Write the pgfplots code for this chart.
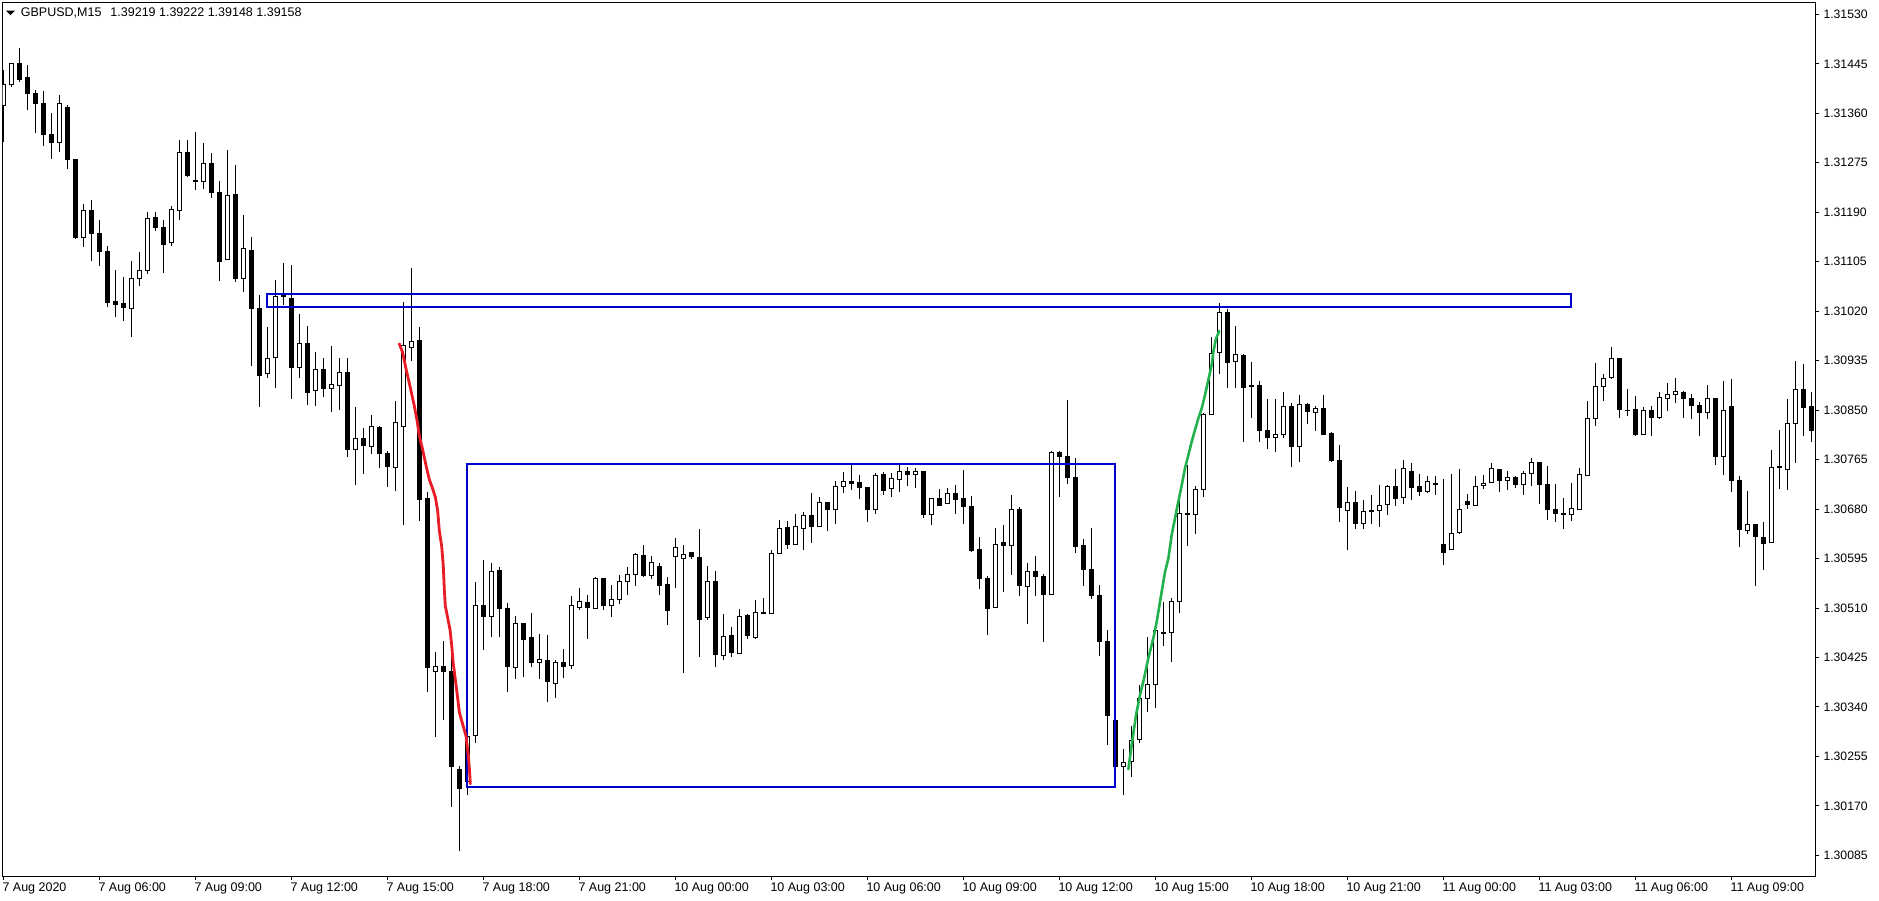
\documentclass[border=0pt]{standalone}
\usepackage{fontspec}
\setmainfont{Liberation Sans}
\usepackage{pgfplots}
\usepackage{pgfplotstable}
\pgfplotsset{compat=1.18}

\definecolor{mtblue}{RGB}{0,0,204}
\definecolor{mtred}{RGB}{232,28,36}
\definecolor{mtgreen}{RGB}{34,177,76}
\newcommand\xtickfont{\fontsize{12.5}{14}\selectfont}
\newcommand\ytickfont{\fontsize{12.2}{14}\selectfont}

% GBPUSD M15 candles: bar index, open, high, low, close
\pgfplotstableread{
i o h l c
0 1.31374 1.31434 1.31311 1.31409
1 1.31410 1.31446 1.31405 1.31446
2 1.31446 1.31473 1.31414 1.31418
3 1.31422 1.31443 1.31365 1.31394
4 1.31394 1.31400 1.31326 1.31377
5 1.31377 1.31399 1.31303 1.31323
6 1.31324 1.31360 1.31282 1.31309
7 1.31310 1.31392 1.31294 1.31377
8 1.31370 1.31374 1.31264 1.31281
9 1.31281 1.31281 1.31144 1.31146
10 1.31147 1.31204 1.31131 1.31193
11 1.31193 1.31211 1.31107 1.31153
12 1.31154 1.31177 1.31098 1.31122
13 1.31122 1.31132 1.31028 1.31035
14 1.31037 1.31090 1.31010 1.31031
15 1.31034 1.31079 1.31004 1.31027
16 1.31025 1.31107 1.30975 1.31077
17 1.31077 1.31121 1.31064 1.31090
18 1.31090 1.31191 1.31084 1.31180
19 1.31181 1.31191 1.31157 1.31164
20 1.31164 1.31177 1.31086 1.31135
21 1.31138 1.31200 1.31132 1.31195
22 1.31193 1.31314 1.31176 1.31292
23 1.31292 1.31314 1.31251 1.31254
24 1.31245 1.31328 1.31229 1.31243
25 1.31243 1.31309 1.31230 1.31274
26 1.31274 1.31292 1.31215 1.31224
27 1.31224 1.31244 1.31072 1.31105
28 1.31109 1.31297 1.31109 1.31219
29 1.31221 1.31271 1.31071 1.31077
30 1.31077 1.31185 1.31053 1.31128
31 1.31125 1.31147 1.30926 1.31025
32 1.31025 1.31048 1.30856 1.30909
33 1.30913 1.30993 1.30906 1.30939
34 1.30941 1.31074 1.30888 1.31046
35 1.31048 1.31102 1.31031 1.31045
36 1.31042 1.31099 1.30870 1.30923
37 1.30924 1.31016 1.30906 1.30965
38 1.30965 1.30995 1.30859 1.30880
39 1.30883 1.30950 1.30857 1.30919
40 1.30919 1.30940 1.30873 1.30888
41 1.30888 1.30960 1.30847 1.30894
42 1.30893 1.30940 1.30850 1.30915
43 1.30915 1.30940 1.30769 1.30782
44 1.30782 1.30855 1.30722 1.30802
45 1.30802 1.30820 1.30741 1.30789
46 1.30788 1.30841 1.30775 1.30822
47 1.30820 1.30823 1.30750 1.30775
48 1.30775 1.30780 1.30718 1.30753
49 1.30752 1.30866 1.30711 1.30828
50 1.30822 1.31035 1.30652 1.30961
51 1.30958 1.31094 1.30935 1.30968
52 1.30970 1.30992 1.30660 1.30697
53 1.30699 1.30710 1.30366 1.30408
54 1.30401 1.30434 1.30288 1.30409
55 1.30409 1.30453 1.30318 1.30401
56 1.30401 1.30426 1.30169 1.30238
57 1.30233 1.30239 1.30093 1.30200
58 1.30212 1.30291 1.30188 1.30290
59 1.30291 1.30555 1.30278 1.30515
60 1.30515 1.30592 1.30438 1.30496
61 1.30496 1.30587 1.30460 1.30572
62 1.30574 1.30580 1.30460 1.30509
63 1.30509 1.30519 1.30366 1.30409
64 1.30408 1.30496 1.30388 1.30483
65 1.30483 1.30483 1.30392 1.30456
66 1.30460 1.30502 1.30409 1.30417
67 1.30417 1.30466 1.30388 1.30421
68 1.30419 1.30463 1.30348 1.30383
69 1.30381 1.30421 1.30355 1.30417
70 1.30417 1.30440 1.30389 1.30409
71 1.30412 1.30531 1.30406 1.30514
72 1.30511 1.30544 1.30507 1.30522
73 1.30520 1.30532 1.30457 1.30511
74 1.30509 1.30564 1.30508 1.30561
75 1.30560 1.30562 1.30507 1.30514
76 1.30514 1.30550 1.30495 1.30525
77 1.30525 1.30566 1.30517 1.30556
78 1.30556 1.30581 1.30533 1.30568
79 1.30568 1.30605 1.30548 1.30602
80 1.30601 1.30618 1.30564 1.30566
81 1.30566 1.30599 1.30560 1.30589
82 1.30582 1.30587 1.30533 1.30549
83 1.30550 1.30564 1.30481 1.30505
84 1.30599 1.30630 1.30545 1.30614
85 1.30595 1.30618 1.30399 1.30602
86 1.30606 1.30606 1.30595 1.30599
87 1.30596 1.30646 1.30426 1.30490
88 1.30493 1.30582 1.30490 1.30556
89 1.30556 1.30574 1.30409 1.30430
90 1.30429 1.30500 1.30421 1.30461
91 1.30463 1.30477 1.30426 1.30433
92 1.30432 1.30508 1.30432 1.30496
93 1.30498 1.30500 1.30457 1.30463
94 1.30459 1.30524 1.30457 1.30503
95 1.30503 1.30527 1.30499 1.30500
96 1.30501 1.30609 1.30501 1.30604
97 1.30604 1.30661 1.30604 1.30647
98 1.30649 1.30660 1.30612 1.30620
99 1.30620 1.30672 1.30620 1.30650
100 1.30647 1.30675 1.30610 1.30669
101 1.30669 1.30708 1.30622 1.30650
102 1.30650 1.30700 1.30650 1.30692
103 1.30692 1.30692 1.30643 1.30680
104 1.30680 1.30728 1.30654 1.30719
105 1.30719 1.30744 1.30708 1.30728
106 1.30728 1.30758 1.30712 1.30724
107 1.30726 1.30739 1.30698 1.30717
108 1.30717 1.30717 1.30657 1.30680
109 1.30680 1.30742 1.30672 1.30738
110 1.30740 1.30744 1.30704 1.30712
111 1.30715 1.30742 1.30700 1.30733
112 1.30731 1.30758 1.30710 1.30745
113 1.30745 1.30752 1.30720 1.30739
114 1.30740 1.30750 1.30717 1.30745
115 1.30745 1.30745 1.30665 1.30670
116 1.30671 1.30699 1.30653 1.30699
117 1.30699 1.30715 1.30686 1.30686
118 1.30690 1.30717 1.30690 1.30707
119 1.30706 1.30721 1.30672 1.30696
120 1.30699 1.30747 1.30654 1.30684
121 1.30685 1.30702 1.30607 1.30608
122 1.30611 1.30632 1.30543 1.30560
123 1.30561 1.30565 1.30464 1.30509
124 1.30511 1.30648 1.30511 1.30620
125 1.30623 1.30653 1.30538 1.30617
126 1.30618 1.30704 1.30567 1.30680
127 1.30680 1.30683 1.30531 1.30548
128 1.30547 1.30587 1.30483 1.30573
129 1.30573 1.30599 1.30531 1.30564
130 1.30565 1.30568 1.30452 1.30533
131 1.30534 1.30780 1.30534 1.30778
132 1.30778 1.30779 1.30701 1.30771
133 1.30771 1.30867 1.30723 1.30734
134 1.30735 1.30767 1.30604 1.30615
135 1.30618 1.30629 1.30548 1.30576
136 1.30577 1.30648 1.30526 1.30531
137 1.30532 1.30550 1.30428 1.30452
138 1.30453 1.30472 1.30275 1.30325
139 1.30316 1.30321 1.30232 1.30237
140 1.30237 1.30268 1.30188 1.30245
141 1.30246 1.30307 1.30220 1.30282
142 1.30284 1.30377 1.30278 1.30355
143 1.30355 1.30461 1.30332 1.30379
144 1.30379 1.30471 1.30339 1.30471
145 1.30467 1.30521 1.30445 1.30468
146 1.30468 1.30527 1.30418 1.30522
147 1.30522 1.30699 1.30501 1.30672
148 1.30670 1.30756 1.30617 1.30672
149 1.30670 1.30720 1.30637 1.30714
150 1.30714 1.30845 1.30700 1.30842
151 1.30842 1.30976 1.30842 1.30948
152 1.30949 1.31034 1.30912 1.31018
153 1.31018 1.31024 1.30888 1.30931
154 1.30934 1.30995 1.30888 1.30946
155 1.30944 1.30946 1.30796 1.30889
156 1.30893 1.30932 1.30836 1.30891
157 1.30893 1.30900 1.30795 1.30815
158 1.30815 1.30870 1.30784 1.30803
159 1.30803 1.30870 1.30778 1.30809
160 1.30809 1.30881 1.30802 1.30857
161 1.30857 1.30862 1.30752 1.30787
162 1.30787 1.30876 1.30761 1.30860
163 1.30860 1.30862 1.30826 1.30848
164 1.30846 1.30857 1.30815 1.30853
165 1.30853 1.30876 1.30808 1.30808
166 1.30810 1.30812 1.30761 1.30763
167 1.30764 1.30790 1.30658 1.30682
168 1.30677 1.30718 1.30609 1.30692
169 1.30692 1.30711 1.30646 1.30655
170 1.30656 1.30696 1.30646 1.30676
171 1.30678 1.30704 1.30655 1.30676
172 1.30677 1.30721 1.30650 1.30687
173 1.30688 1.30721 1.30670 1.30718
174 1.30718 1.30749 1.30686 1.30698
175 1.30700 1.30764 1.30689 1.30749
176 1.30744 1.30759 1.30696 1.30717
177 1.30718 1.30740 1.30703 1.30710
178 1.30710 1.30736 1.30708 1.30728
179 1.30724 1.30737 1.30705 1.30722
180 1.30620 1.30732 1.30584 1.30605
181 1.30611 1.30740 1.30611 1.30638
182 1.30639 1.30749 1.30638 1.30680
183 1.30693 1.30706 1.30681 1.30688
184 1.30687 1.30737 1.30687 1.30718
185 1.30721 1.30739 1.30714 1.30724
186 1.30726 1.30760 1.30724 1.30750
187 1.30748 1.30748 1.30710 1.30729
188 1.30729 1.30745 1.30712 1.30735
189 1.30735 1.30737 1.30717 1.30723
190 1.30723 1.30745 1.30705 1.30742
191 1.30742 1.30768 1.30720 1.30760
192 1.30760 1.30760 1.30689 1.30723
193 1.30723 1.30754 1.30662 1.30680
194 1.30680 1.30723 1.30658 1.30673
195 1.30673 1.30699 1.30646 1.30671
196 1.30671 1.30724 1.30660 1.30681
197 1.30680 1.30751 1.30680 1.30739
198 1.30738 1.30866 1.30738 1.30836
199 1.30836 1.30931 1.30822 1.30891
200 1.30891 1.30912 1.30865 1.30905
201 1.30906 1.30959 1.30904 1.30939
202 1.30939 1.30939 1.30837 1.30851
203 1.30850 1.30886 1.30840 1.30849
204 1.30851 1.30874 1.30806 1.30808
205 1.30809 1.30855 1.30809 1.30850
206 1.30850 1.30857 1.30806 1.30837
207 1.30837 1.30881 1.30835 1.30872
208 1.30870 1.30897 1.30849 1.30877
209 1.30877 1.30905 1.30863 1.30882
210 1.30881 1.30883 1.30837 1.30870
211 1.30870 1.30878 1.30834 1.30858
212 1.30858 1.30864 1.30806 1.30846
213 1.30846 1.30893 1.30835 1.30870
214 1.30870 1.30870 1.30756 1.30770
215 1.30771 1.30900 1.30739 1.30850
216 1.30857 1.30904 1.30710 1.30729
217 1.30729 1.30737 1.30615 1.30645
218 1.30644 1.30711 1.30638 1.30654
219 1.30654 1.30654 1.30547 1.30633
220 1.30632 1.30658 1.30576 1.30621
221 1.30623 1.30782 1.30623 1.30752
222 1.30754 1.30816 1.30715 1.30752
223 1.30748 1.30869 1.30713 1.30827
224 1.30827 1.30934 1.30760 1.30886
225 1.30886 1.30929 1.30806 1.30855
226 1.30857 1.30881 1.30796 1.30815
}\candles

% hand-drawn annotations (bar index, price)
\pgfplotstableread{
x y
49.5 1.30964
49.92 1.30949
50.34 1.30921
50.84 1.30891
51.38 1.30857
51.71 1.30833
52.0 1.30806
52.42 1.30782
52.84 1.30755
53.25 1.30731
53.59 1.30718
54.0 1.30701
54.3 1.30677
54.5 1.30643
54.8 1.30616
55.0 1.30582
55.13 1.30541
55.25 1.30514
55.55 1.30493
55.84 1.30473
56.05 1.30446
56.21 1.30419
56.46 1.30392
56.71 1.30365
57.0 1.30331
57.43 1.30310
57.84 1.30290
58.13 1.30256
58.25 1.30236
58.38 1.30208
}\redline

\pgfplotstableread{
x y
140.63 1.30233
141.05 1.30275
141.59 1.30326
142.09 1.30361
142.59 1.30389
143.13 1.30424
143.75 1.30458
144.17 1.30486
144.59 1.30521
145.21 1.30572
145.63 1.30595
146.05 1.30636
146.46 1.30664
146.88 1.30693
147.3 1.30721
147.71 1.30750
148.13 1.30773
148.55 1.30796
148.96 1.30816
149.38 1.30836
149.8 1.30853
150.21 1.30876
150.63 1.30902
151.05 1.30928
151.25 1.30950
151.59 1.30973
152.0 1.30986
}\greenline

% build wick and body paths from the table
\newcommand\wicks{}
\newcommand\bearbodies{}
\newcommand\bullbodies{}
\pgfplotstablegetrowsof{\candles}
\pgfmathtruncatemacro\lastrow{\pgfplotsretval-1}
\pgfplotsinvokeforeach{0,...,\lastrow}{%
  \pgfplotstablegetelem{#1}{i}\of\candles\let\candI\pgfplotsretval
  \pgfplotstablegetelem{#1}{o}\of\candles\let\candO\pgfplotsretval
  \pgfplotstablegetelem{#1}{h}\of\candles\let\candH\pgfplotsretval
  \pgfplotstablegetelem{#1}{l}\of\candles\let\candL\pgfplotsretval
  \pgfplotstablegetelem{#1}{c}\of\candles\let\candC\pgfplotsretval
  \pgfmathsetmacro\xa{\candI-0.25}%
  \pgfmathsetmacro\xb{\candI+0.25}%
  \xdef\wicks{\wicks (\candI,\candL) (\candI,\candH) (\candI,nan)}%
  \ifdim\candC pt>\candO pt
    \xdef\bullbodies{\bullbodies (\xa,\candO) (\xb,\candO) (\xb,\candC) (\xa,\candC) (\xa,\candO) (\candI,nan)}%
  \else
    \xdef\bearbodies{\bearbodies (\xa,\candO) (\xb,\candO) (\xb,\candC) (\xa,\candC) (\xa,\candO) (\candI,nan)}%
  \fi
}

\begin{document}
\begin{tikzpicture}
\useasboundingbox (0,0) rectangle (1879pt,900pt);
\begin{axis}[
    at={(2.5pt,24pt)}, anchor=south west,
    scale only axis,
    width=1812.5pt, height=873.5pt,
    xmin=-0.1, xmax=226.46,
    ymin=1.300496, ymax=1.315504,
    axis line style={line width=1pt, black},
    tick align=outside,
    major tick length=4pt,
    tick style={line width=1pt, black},
    xtick pos=left, ytick pos=right,
    xticklabel pos=left, yticklabel pos=right,
    scaled y ticks=false,
    xtick={0,12,...,216},
    xticklabels={7 Aug 2020, 7 Aug 06:00, 7 Aug 09:00, 7 Aug 12:00, 7 Aug 15:00,
        7 Aug 18:00, 7 Aug 21:00, 10 Aug 00:00, 10 Aug 03:00, 10 Aug 06:00,
        10 Aug 09:00, 10 Aug 12:00, 10 Aug 15:00, 10 Aug 18:00, 10 Aug 21:00,
        11 Aug 00:00, 11 Aug 03:00, 11 Aug 06:00, 11 Aug 09:00},
    ytick={1.30085,1.30170,1.30255,1.30340,1.30425,1.30510,1.30595,1.30680,1.30765,
        1.30850,1.30935,1.31020,1.31105,1.31190,1.31275,1.31360,1.31445,1.31530},
    yticklabels={1.30085,1.30170,1.30255,1.30340,1.30425,1.30510,1.30595,1.30680,1.30765,
        1.30850,1.30935,1.31020,1.31105,1.31190,1.31275,1.31360,1.31445,1.31530},
    x tick label style={font=\xtickfont, anchor=north west, inner sep=0pt, xshift=-1pt, yshift=-2.7pt},
    y tick label style={font=\ytickfont, anchor=west, inner sep=0pt, xshift=4.3pt},
    unbounded coords=jump,
]
\edef\drawcandles{%
  \noexpand\addplot[black, line width=1pt, mark=none, forget plot] coordinates {\wicks};
  \noexpand\addplot[draw=black, fill=black, line width=1pt, mark=none, forget plot] coordinates {\bearbodies};
  \noexpand\addplot[draw=black, fill=white, line width=1pt, mark=none, forget plot] coordinates {\bullbodies};
}
\drawcandles

\addplot[mtblue, line width=2pt, mark=none] coordinates {(33,1.31050) (196,1.31050) (196,1.31028) (33,1.31028)} -- cycle;
\addplot[mtblue, line width=2pt, mark=none] coordinates {(58,1.30758) (139,1.30758) (139,1.30202) (58,1.30202)} -- cycle;
\addplot[mtred, line width=2.8pt, mark=none, line cap=round, line join=round] table[x=x, y=y] {\redline};
\addplot[mtgreen, line width=2.6pt, mark=none, line cap=round, line join=round] table[x=x, y=y] {\greenline};
\end{axis}
\fill (6pt,889.3pt) -- (15pt,889.3pt) -- (10.5pt,884.8pt) -- cycle;
\node[anchor=base west, inner sep=0pt, font=\xtickfont] at (20.7pt,883.3pt)
    {GBPUSD,M15\hspace{9pt}1.39219 1.39222 1.39148 1.39158};
\end{tikzpicture}
\end{document}
